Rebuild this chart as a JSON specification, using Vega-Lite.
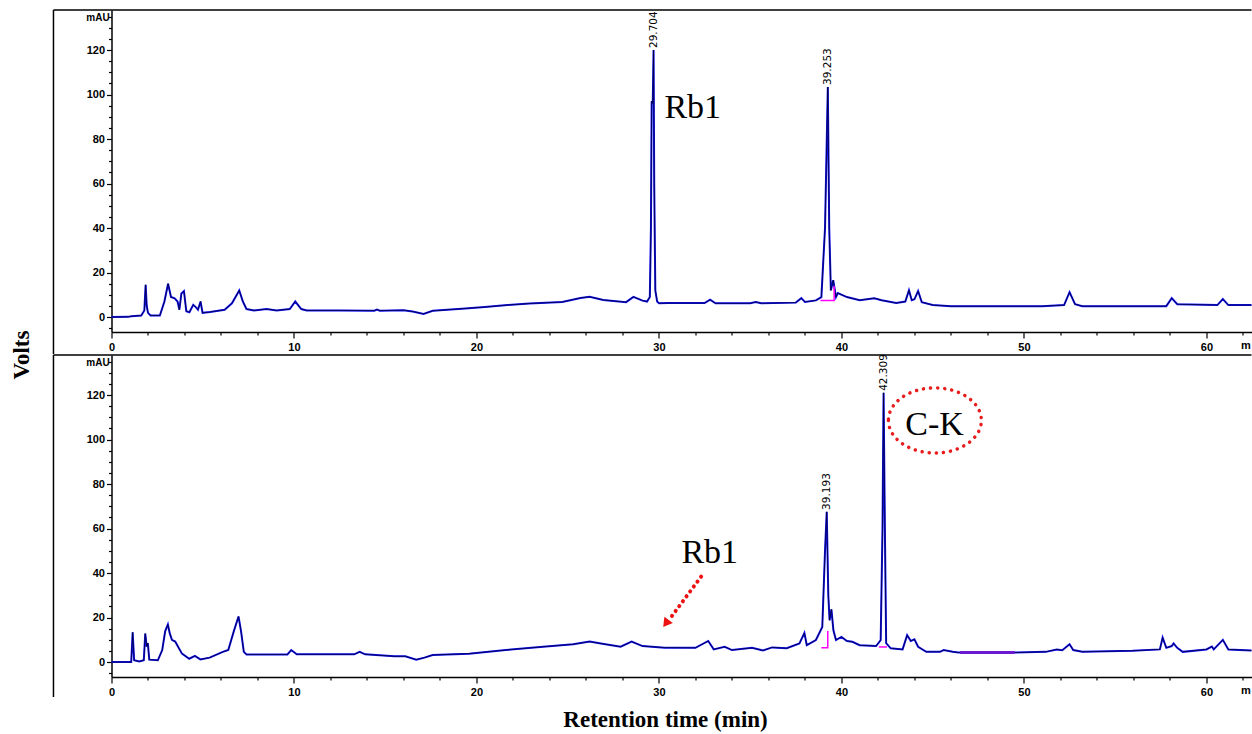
{
  "$schema": "https://vega.github.io/schema/vega-lite/v6.json",
  "autosize": {"type": "pad"},
  "padding": {"left": 10.5, "top": 9, "right": 0, "bottom": 0},
  "background": "white",
  "bounds": "flush",
  "spacing": 23,
  "config": {
    "view": {"stroke": null},
    "font": "Liberation Sans",
    "axis": {
      "domainColor": "#000", "domainWidth": 1.5, "tickColor": "#000", "tickWidth": 1.2,
      "labelColor": "#000", "labelFont": "Liberation Sans", "labelFontSize": 11, "labelFontWeight": "bold",
      "grid": false, "title": null, "labelFlush": false, "labelOverlap": false
    }
  },
  "datasets": {
    "top": [
      {"t":0,"v":0},{"t":0.9,"v":0.1},{"t":1.1,"v":0.4},{"t":1.63,"v":0.7},{"t":1.8,"v":3},{"t":1.87,"v":14.5},{"t":1.93,"v":5},{"t":2.0,"v":1.9},{"t":2.14,"v":0.7},{"t":2.65,"v":0.7},{"t":2.9,"v":7},{"t":3.1,"v":15},{"t":3.26,"v":9},{"t":3.46,"v":8.4},{"t":3.62,"v":7},{"t":3.72,"v":3.3},{"t":3.83,"v":10.6},{"t":3.97,"v":11.7},{"t":4.1,"v":2.6},{"t":4.27,"v":2.2},{"t":4.48,"v":5.5},{"t":4.62,"v":4.5},{"t":4.74,"v":3.3},{"t":4.88,"v":7},{"t":4.99,"v":1.9},{"t":5.4,"v":2.3},{"t":6.2,"v":3.3},{"t":6.6,"v":6.2},{"t":7.0,"v":12},{"t":7.2,"v":7},{"t":7.4,"v":3.6},{"t":7.8,"v":3},{"t":8.5,"v":3.6},{"t":9.05,"v":3},{"t":9.77,"v":3.6},{"t":10.07,"v":7},{"t":10.4,"v":3.6},{"t":10.7,"v":3},{"t":12.5,"v":3},{"t":14.4,"v":2.9},{"t":14.55,"v":3.4},{"t":14.7,"v":2.9},{"t":16.0,"v":3.1},{"t":16.5,"v":2.5},{"t":17.1,"v":1.45},{"t":17.6,"v":2.8},{"t":19.4,"v":3.9},{"t":20.45,"v":4.5},{"t":21.7,"v":5.4},{"t":22.9,"v":6.1},{"t":24.7,"v":6.8},{"t":25.7,"v":8.6},{"t":26.2,"v":9.1},{"t":26.95,"v":7.7},{"t":28.2,"v":6.7},{"t":28.6,"v":9.1},{"t":29.1,"v":7.4},{"t":29.35,"v":7},{"t":29.5,"v":9},{"t":29.56,"v":40},{"t":29.6,"v":97},{"t":29.66,"v":96},{"t":29.704,"v":120},{"t":29.74,"v":60},{"t":29.8,"v":12},{"t":29.9,"v":7},{"t":30.0,"v":6.2},{"t":30.5,"v":6.3},{"t":32.5,"v":6.3},{"t":32.8,"v":7.8},{"t":33.1,"v":6.2},{"t":35.0,"v":6.2},{"t":35.3,"v":6.8},{"t":35.6,"v":6.2},{"t":37.5,"v":6.5},{"t":37.8,"v":8.5},{"t":38.0,"v":6.8},{"t":38.6,"v":7.5},{"t":38.9,"v":9},{"t":39.1,"v":40},{"t":39.253,"v":103.4},{"t":39.33,"v":40},{"t":39.42,"v":12},{"t":39.55,"v":16.6},{"t":39.7,"v":9},{"t":39.8,"v":10.8},{"t":40.3,"v":9},{"t":41,"v":7.6},{"t":41.8,"v":8.5},{"t":42.2,"v":7.6},{"t":43,"v":6.3},{"t":43.5,"v":7},{"t":43.7,"v":12.1},{"t":43.85,"v":7.6},{"t":44.0,"v":8},{"t":44.2,"v":11.7},{"t":44.4,"v":6.7},{"t":45,"v":5.4},{"t":46,"v":4.9},{"t":51,"v":4.9},{"t":52.2,"v":5.4},{"t":52.5,"v":11.2},{"t":52.8,"v":5.8},{"t":53.2,"v":4.9},{"t":57.8,"v":4.9},{"t":58.1,"v":8.5},{"t":58.4,"v":5.8},{"t":60.6,"v":5.4},{"t":60.9,"v":8.1},{"t":61.2,"v":5.4},{"t":62.47,"v":5.4}
    ],
    "bottom": [
      {"t":0,"v":0},{"t":0.91,"v":0},{"t":1.08,"v":0},{"t":1.16,"v":13.4},{"t":1.24,"v":0.8},{"t":1.52,"v":0.3},{"t":1.77,"v":0.8},{"t":1.85,"v":12.8},{"t":1.93,"v":7},{"t":1.99,"v":8.5},{"t":2.07,"v":1.1},{"t":2.54,"v":0.8},{"t":2.78,"v":5.4},{"t":2.94,"v":13.8},{"t":3.09,"v":16.9},{"t":3.19,"v":13},{"t":3.31,"v":10},{"t":3.49,"v":9.2},{"t":3.65,"v":6.9},{"t":3.86,"v":3.8},{"t":4.26,"v":1.5},{"t":4.57,"v":2.8},{"t":4.87,"v":1.2},{"t":5.38,"v":2},{"t":6.1,"v":4.6},{"t":6.4,"v":5.4},{"t":6.7,"v":13.8},{"t":6.96,"v":20.5},{"t":7.1,"v":13.8},{"t":7.25,"v":4.6},{"t":7.4,"v":3.4},{"t":9.64,"v":3.4},{"t":9.85,"v":5.4},{"t":10.15,"v":3.5},{"t":13.3,"v":3.5},{"t":13.6,"v":4.6},{"t":13.9,"v":3.5},{"t":15.5,"v":2.6},{"t":16.1,"v":2.6},{"t":16.7,"v":1.1},{"t":17.15,"v":2},{"t":17.6,"v":3.2},{"t":19.6,"v":3.8},{"t":21.6,"v":5.4},{"t":23.65,"v":6.9},{"t":25.3,"v":8},{"t":26.2,"v":9.2},{"t":26.9,"v":8.2},{"t":27.9,"v":6.9},{"t":28.5,"v":9.2},{"t":29.1,"v":7.2},{"t":30.3,"v":6.5},{"t":32.0,"v":6.4},{"t":32.7,"v":9.5},{"t":33.0,"v":5.7},{"t":33.6,"v":6.9},{"t":34.0,"v":5.4},{"t":35.1,"v":6.4},{"t":35.7,"v":5.2},{"t":36.2,"v":6.6},{"t":37.0,"v":6.2},{"t":37.7,"v":8.4},{"t":37.97,"v":13.1},{"t":38.1,"v":7.6},{"t":38.6,"v":9.9},{"t":38.95,"v":15.8},{"t":39.1,"v":50},{"t":39.193,"v":67.5},{"t":39.28,"v":30},{"t":39.35,"v":18.8},{"t":39.45,"v":23.7},{"t":39.56,"v":14.3},{"t":39.7,"v":9.9},{"t":40.0,"v":11.3},{"t":40.3,"v":9.5},{"t":40.6,"v":9.1},{"t":41.0,"v":7.6},{"t":41.9,"v":7.2},{"t":42.15,"v":9.9},{"t":42.25,"v":60},{"t":42.309,"v":121},{"t":42.38,"v":60},{"t":42.45,"v":8.5},{"t":42.7,"v":6.2},{"t":43.35,"v":5.7},{"t":43.6,"v":12.1},{"t":43.8,"v":9.5},{"t":44.0,"v":10.2},{"t":44.2,"v":6.9},{"t":44.65,"v":4.6},{"t":45.4,"v":4.6},{"t":45.6,"v":5.4},{"t":46.1,"v":4.6},{"t":46.4,"v":4.3},{"t":49.5,"v":4.3},{"t":51.2,"v":4.6},{"t":51.8,"v":5.7},{"t":52.1,"v":5.3},{"t":52.5,"v":8},{"t":52.7,"v":5.4},{"t":53.2,"v":4.6},{"t":55.95,"v":5.1},{"t":57.45,"v":5.7},{"t":57.6,"v":11},{"t":57.8,"v":6.4},{"t":58.1,"v":7.2},{"t":58.2,"v":8.4},{"t":58.4,"v":6.4},{"t":58.7,"v":4.6},{"t":60.0,"v":5.7},{"t":60.3,"v":7},{"t":60.4,"v":5.7},{"t":60.9,"v":10},{"t":61.2,"v":5.7},{"t":62.47,"v":5.2}
    ],
    "baseTop": [
      {"seg":"a","t":38.85,"v":7.5},{"seg":"a","t":39.6,"v":7.5},{"seg":"a","t":39.6,"v":14}
    ],
    "baseBottom": [
      {"seg":"a","t":38.9,"v":6.5},{"seg":"a","t":39.25,"v":6.5},{"seg":"a","t":39.25,"v":14},
      {"seg":"b","t":42.05,"v":6.8},{"seg":"b","t":42.5,"v":6.8}
    ],
    "purpleBottom": [
      {"t":46.5,"v":4.3},{"t":49.5,"v":4.3}
    ],
    "peaksTop": [
      {"t":29.704,"v":120,"label":"29.704"},{"t":39.253,"v":103.4,"label":"39.253"}
    ],
    "peaksBottom": [
      {"t":39.193,"v":67.5,"label":"39.193"},{"t":42.309,"v":121,"label":"42.309"}
    ]
  },
  "vconcat": [
    {
      "width": 1140, "height": 322,
      "encoding": {
        "x": {"field": "t", "type": "quantitative", "scale": {"domain": [0, 62.47], "nice": false, "zero": false},
          "axis": {"values": [0,2,4,6,8,10,12,14,16,18,20,22,24,26,28,30,32,34,36,38,40,42,44,46,48,50,52,54,56,58,60,62],
            "labelExpr": "datum.value % 10 === 0 ? datum.label : ''",
            "tickSize": {"condition": {"test": "datum.value % 10 === 0", "value": 6}, "value": 3},
            "labelPadding": 3}},
        "y": {"field": "v", "type": "quantitative", "scale": {"domain": [-6.7, 138], "nice": false, "zero": false},
          "axis": {"values": [-5,0,5,10,15,20,25,30,35,40,45,50,55,60,65,70,75,80,85,90,95,100,105,110,115,120,125,130,135],
            "labelExpr": "datum.value % 20 === 0 ? datum.label : ''",
            "tickSize": {"condition": {"test": "datum.value % 20 === 0", "value": 5}, "value": 3},
            "labelPadding": 2}}
      },
      "layer": [
        {"data": {"name": "top"}, "mark": {"type": "line", "color": "#1010ff", "strokeWidth": 2}},
        {"data": {"name": "top"}, "mark": {"type": "line", "color": "#000022", "strokeWidth": 0.9, "opacity": 0.85}},
        {"data": {"name": "baseTop"}, "mark": {"type": "line", "color": "#ff00ff", "strokeWidth": 1.5}, "encoding": {"detail": {"field": "seg"}}},
        {"data": {"name": "peaksTop"}, "mark": {"type": "text", "angle": 270, "align": "left", "baseline": "middle", "dx": 2, "font": "DejaVu Sans", "fontSize": 10.5, "color": "#000"}, "encoding": {"text": {"field": "label"}}},
        {"data": {"values": [{"t": 30.3, "v": 89.5, "label": "Rb1"}]}, "mark": {"type": "text", "font": "Liberation Serif", "fontSize": 34, "align": "left", "baseline": "alphabetic", "color": "#000"},
          "encoding": {"text": {"field": "label"}}},
        {"data": {"values": [{"t": -0.1, "v": 134.4, "label": "mAU"}]}, "mark": {"type": "text", "fontSize": 10, "fontWeight": "bold", "align": "right", "baseline": "middle", "color": "#000"},
          "encoding": {"text": {"field": "label"}}},
        {"data": {"values": [{"t": 61.9, "v": -13, "label": "m"}]}, "mark": {"type": "text", "fontSize": 11, "fontWeight": "bold", "align": "left", "baseline": "middle", "color": "#000"},
          "encoding": {"text": {"field": "label"}}},
        {"data": {"values": [{"t": -3.18, "v": 138, "v2": -16.6}]}, "mark": {"type": "rule", "color": "#000", "strokeWidth": 1.5},
          "encoding": {"y2": {"field": "v2"}}},
        {"data": {"values": [{"t": -3.18, "t2": 62.47, "v": 138}]}, "mark": {"type": "rule", "color": "#000", "strokeWidth": 1.5},
          "encoding": {"x2": {"field": "t2"}}},
        {"data": {"values": [{"t": -4.93, "v": -17.08, "label": "Volts"}]}, "mark": {"type": "text", "font": "Liberation Serif", "fontWeight": "bold", "fontSize": 23, "angle": 270, "align": "center", "baseline": "middle", "color": "#000"},
          "encoding": {"text": {"field": "label"}}}
      ]
    },
    {
      "width": 1140, "height": 322,
      "encoding": {
        "x": {"field": "t", "type": "quantitative", "scale": {"domain": [0, 62.47], "nice": false, "zero": false},
          "axis": {"values": [0,2,4,6,8,10,12,14,16,18,20,22,24,26,28,30,32,34,36,38,40,42,44,46,48,50,52,54,56,58,60,62],
            "labelExpr": "datum.value % 10 === 0 ? datum.label : ''",
            "tickSize": {"condition": {"test": "datum.value % 10 === 0", "value": 6}, "value": 3},
            "labelPadding": 3}},
        "y": {"field": "v", "type": "quantitative", "scale": {"domain": [-6.7, 138], "nice": false, "zero": false},
          "axis": {"values": [-5,0,5,10,15,20,25,30,35,40,45,50,55,60,65,70,75,80,85,90,95,100,105,110,115,120,125,130,135],
            "labelExpr": "datum.value % 20 === 0 ? datum.label : ''",
            "tickSize": {"condition": {"test": "datum.value % 20 === 0", "value": 5}, "value": 3},
            "labelPadding": 2}}
      },
      "layer": [
        {"data": {"name": "bottom"}, "mark": {"type": "line", "color": "#1010ff", "strokeWidth": 2}},
        {"data": {"name": "bottom"}, "mark": {"type": "line", "color": "#000022", "strokeWidth": 0.9, "opacity": 0.85}},
        {"data": {"name": "baseBottom"}, "mark": {"type": "line", "color": "#ff00ff", "strokeWidth": 1.5}, "encoding": {"detail": {"field": "seg"}}},
        {"data": {"name": "purpleBottom"}, "mark": {"type": "line", "color": "#6a1bd1", "strokeWidth": 3}},
        {"data": {"name": "peaksBottom"}, "mark": {"type": "text", "angle": 270, "align": "left", "baseline": "middle", "dx": 2, "font": "DejaVu Sans", "fontSize": 10.5, "color": "#000"}, "encoding": {"text": {"field": "label"}}},
        {"data": {"values": [{"t": 31.23, "v": 44.5, "label": "Rb1"}]}, "mark": {"type": "text", "font": "Liberation Serif", "fontSize": 34, "align": "left", "baseline": "alphabetic", "color": "#000"},
          "encoding": {"text": {"field": "label"}}},
        {"data": {"values": [{"t": 45.1, "v": 102, "label": "C-K"}]}, "mark": {"type": "text", "font": "Liberation Serif", "fontSize": 34, "align": "center", "baseline": "alphabetic", "color": "#000"},
          "encoding": {"text": {"field": "label"}}},
        {"data": {"values": [{"t": 45.12, "v": 108.6}]}, "mark": {"type": "point", "shape": "M-1,0A1,0.7,0,1,0,1,0A1,0.7,0,1,0,-1,0Z", "size": 8649, "filled": false, "stroke": "#e81c1c", "strokeWidth": 3.5, "strokeDash": [0.1, 7], "strokeCap": "round", "opacity": 1}},
        {"data": {"values": [{"t": 32.31, "v": 38.4, "t2": 30.6, "v2": 19.5}]}, "mark": {"type": "rule", "color": "#ee1111", "strokeWidth": 4, "strokeDash": [0.1, 6], "strokeCap": "round"},
          "encoding": {"x2": {"field": "t2"}, "y2": {"field": "v2"}}},
        {"data": {"values": [{"t": 30.38, "v": 17.35}]}, "mark": {"type": "point", "shape": "triangle-up", "angle": 216.7, "size": 110, "filled": true, "color": "#ee1111", "opacity": 1}},
        {"data": {"values": [{"t": -0.1, "v": 134.4, "label": "mAU"}]}, "mark": {"type": "text", "fontSize": 10, "fontWeight": "bold", "align": "right", "baseline": "middle", "color": "#000"},
          "encoding": {"text": {"field": "label"}}},
        {"data": {"values": [{"t": 61.9, "v": -13, "label": "m"}]}, "mark": {"type": "text", "fontSize": 11, "fontWeight": "bold", "align": "left", "baseline": "middle", "color": "#000"},
          "encoding": {"text": {"field": "label"}}},
        {"data": {"values": [{"t": -3.18, "v": 138, "v2": -15.7}]}, "mark": {"type": "rule", "color": "#000", "strokeWidth": 1.5},
          "encoding": {"y2": {"field": "v2"}}},
        {"data": {"values": [{"t": -3.18, "t2": 62.47, "v": 138}]}, "mark": {"type": "rule", "color": "#000", "strokeWidth": 1.5},
          "encoding": {"x2": {"field": "t2"}}},
        {"data": {"values": [{"t": 30.36, "v": -26.1, "label": "Retention time (min)"}]}, "mark": {"type": "text", "font": "Liberation Serif", "fontWeight": "bold", "fontSize": 23, "align": "center", "baseline": "middle", "color": "#000"},
          "encoding": {"text": {"field": "label"}}}
      ]
    }
  ]
}
